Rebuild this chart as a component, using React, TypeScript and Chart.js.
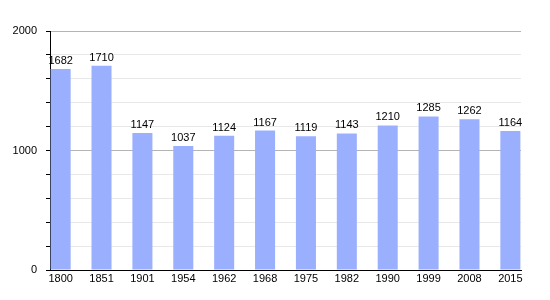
import React, { useEffect, useRef } from "react";
import { Chart, registerables } from "chart.js";

Chart.register(...registerables);

const years = ["1800", "1851", "1901", "1954", "1962", "1968", "1975", "1982", "1990", "1999", "2008", "2015"];
const population = [1682, 1710, 1147, 1037, 1124, 1167, 1119, 1143, 1210, 1285, 1262, 1164];
const yLabels = [0, 1000, 2000];

const FONT = "'Liberation Sans', Arial, sans-serif";

const valueLabels = {
  id: "valueLabels",
  afterDatasetsDraw(chart: any) {
    const ctx = chart.ctx;
    const meta = chart.getDatasetMeta(0);
    ctx.save();
    ctx.font = `11px ${FONT}`;
    ctx.fillStyle = "#000";
    ctx.textAlign = "center";
    ctx.textBaseline = "alphabetic";
    meta.data.forEach((bar: any, i: number) => {
      ctx.fillText(String(population[i]), bar.x, bar.y - 5);
    });
    ctx.restore();
  },
};

export default function App() {
  const ref = useRef<HTMLCanvasElement>(null);
  useEffect(() => {
    document.body.style.margin = "0";
    const chart = new Chart(ref.current!, {
      type: "bar",
      data: {
        datasets: [
          {
            data: population.map((v, i) => ({ x: i, y: v })),
            backgroundColor: "#9bafff",
            borderWidth: 0,
            barPercentage: 0.49,
            categoryPercentage: 1,
          },
        ],
      },
      options: {
        animation: false,
        responsive: false,
        maintainAspectRatio: false,
        layout: { padding: { left: 0, right: 29, top: 31, bottom: 0 } },
        plugins: { legend: { display: false }, tooltip: { enabled: false } },
        scales: {
          x: {
            type: "linear",
            offset: false,
            min: -0.26,
            max: 11.26,
            afterBuildTicks: (s: any) => {
              s.ticks = years.map((_, i) => ({ value: i }));
            },
            afterFit: (s: any) => {
              s.height = 30;
            },
            ticks: {
              autoSkip: false,
              maxRotation: 0,
              padding: 2,
              color: "#000",
              font: { family: FONT, size: 11 },
              callback: (v: any) => years[v] ?? "",
            },
            grid: { display: false, drawTicks: false, offset: false },
            border: { display: true, color: "#000", width: 1 },
          },
          y: {
            min: 0,
            max: 2000,
            afterFit: (s: any) => {
              s.width = 50;
            },
            ticks: {
              stepSize: 200,
              autoSkip: false,
              padding: 9,
              color: "#000",
              font: { family: FONT, size: 11 },
              callback: (v: any) => (yLabels.includes(v) ? String(v) : ""),
            },
            grid: {
              color: (c: any) => (c.tick && c.tick.value % 1000 === 0 ? "#b4b4b4" : "#e8e8e8"),
              tickColor: "#000",
              tickLength: 4,
              lineWidth: 1,
            },
            border: { display: true, color: "#000", width: 1 },
          },
        },
      },
      plugins: [valueLabels],
    });
    return () => chart.destroy();
  }, []);
  return (
    <div style={{ position: "absolute", left: 0, top: 0, width: 550, height: 300 }}>
      <canvas ref={ref} width={550} height={300} style={{ width: 550, height: 300 }} />
    </div>
  );
}
